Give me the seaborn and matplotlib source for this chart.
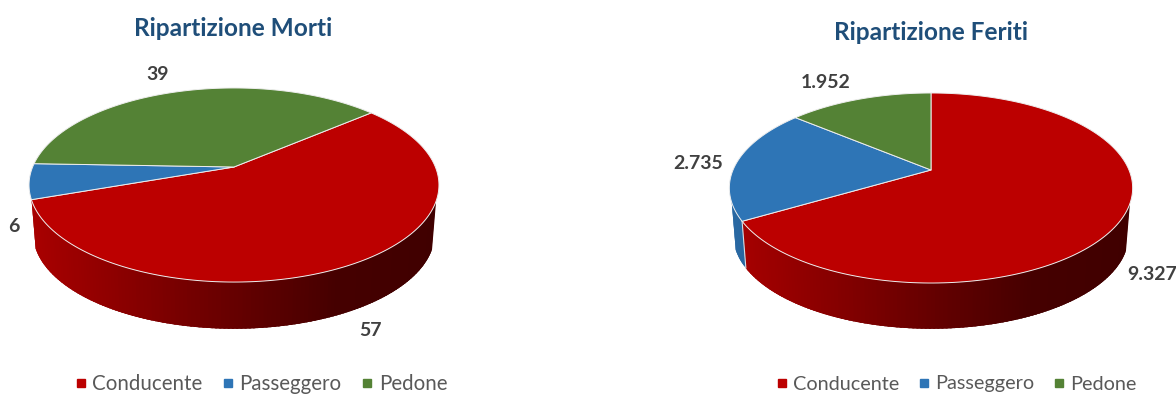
import numpy as np
import matplotlib
matplotlib.use("Agg")
import matplotlib.pyplot as plt
from matplotlib.lines import Line2D
import seaborn as sns

categories = ["Conducente", "Passeggero", "Pedone"]
morti = [57, 6, 39]
feriti = [9327, 2735, 1952]
morti_labels = ["57", "6", "39"]
feriti_labels = ["9.327", "2.735", "1.952"]

sns.set_theme(style="white")
plt.rcParams["font.family"] = ["Lato", "DejaVu Sans"]
palette = sns.color_palette(["#BC0000", "#2E75B6", "#548235"])

W, H = 1176, 394
fig = plt.figure(figsize=(W / 100, H / 100), dpi=100, facecolor="white")


def project(theta_deg, a, b, k):
    t = np.radians(theta_deg)
    u, v = np.sin(t), np.cos(t)
    d = 1 + k * v
    return a * u / d, b * v / d


def shade(f):
    return np.interp(f, [0, 0.5, 0.75, 1], [0.90, 0.54, 0.37, 0.34])


def draw_pie(ax, values, labels, start, a, b, k, depth, title, title_xy, label_xy,
             legend_x, legend_size):
    scale = 0.98
    wall_lo, wall_hi = 110, 250.5
    values = np.asarray(values, float)
    edges = start + np.concatenate([[0], np.cumsum(values) / values.sum() * 360])
    xmax = a / np.sqrt(1 - k ** 2)

    # side wall, built from the slice angles; strips overlap the next one to hide seams
    for i, (t0, t1) in enumerate(zip(edges[:-1], edges[1:])):
        for shift in (-360, 0):
            l, h = max(t0 + shift, wall_lo), min(t1 + shift, wall_hi)
            if h <= l:
                continue
            steps = np.arange(l, h + 1, 1.0)
            steps[-1] = h
            for s0, s1 in zip(steps[:-1], steps[1:]):
                th = np.array([s0, min(s1 + 1.5, h)])
                x, y = project(th, a, b, k)
                xb, yb = x * scale, y * scale - depth
                xm = project(0.5 * (s0 + s1), a, b, k)[0]
                f = (xm + xmax) / (2 * xmax)
                c = tuple(np.array(palette[i]) * shade(f))
                ax.fill([x[0], x[1], xb[1], xb[0]], [y[0], y[1], yb[1], yb[0]],
                        facecolor=c, edgecolor="none", lw=0, zorder=1)
        if wall_lo < (t1 % 360) < wall_hi:
            x, y = project(t1, a, b, k)
            ax.plot([x, x * scale], [y, y * scale - depth], color="#D5DDE5", lw=0.8, zorder=1.5)

    # top face
    for i, (t0, t1) in enumerate(zip(edges[:-1], edges[1:])):
        th = np.linspace(t0, t1, 200)
        x, y = project(th, a, b, k)
        ax.fill(np.r_[0, x], np.r_[0, y], facecolor=palette[i], edgecolor="#EEEEEE",
                lw=0.7, joinstyle="round", zorder=2)

    for lab, (lx, ly) in zip(labels, label_xy):
        ax.text(lx, ly, lab, ha="center", va="center", fontsize=14,
                fontweight="bold", color="#404040", zorder=3)
    ax.text(title_xy[0], title_xy[1], title, ha="center", va="center", fontsize=17.6,
            fontweight="bold", color="#1F4E79", zorder=3)

    handles = [Line2D([], [], ls="", marker="s", ms=6.2, color=palette[i], label=categories[i])
               for i in range(3)]
    ax.legend(handles=handles, loc="center", bbox_to_anchor=legend_x, ncol=3,
              frameon=False, fontsize=legend_size, labelcolor="#595959", handletextpad=0.3,
              columnspacing=1.0, handlelength=0.5, borderpad=0, borderaxespad=0,
              bbox_transform=fig.transFigure)


# left chart: apex at (234, 167) px; axis spans the left half of the figure
ax1 = fig.add_axes([0, 0, 588 / W, 1])
ax1.set_xlim(-234, 354)
ax1.set_ylim(167 - H, 167)
ax1.axis("off")
draw_pie(ax1, morti, morti_labels, 49.7, 201.4, 93.7, 0.1856, 49, "Ripartizione Morti",
         (-1, 139), [(136, -163), (-220, -59), (-76, 92)], (261.5 / W, 1 - 384 / H), 14.8)

# right chart: apex at (931, 170) px
ax2 = fig.add_axes([588 / W, 0, 588 / W, 1])
ax2.set_xlim(588 - 931, 1176 - 931)
ax2.set_ylim(170 - H, 170)
ax2.axis("off")
draw_pie(ax2, feriti, feriti_labels, 0, 198, 91.6, 0.1895, 48, "Ripartizione Feriti",
         (0, 138), [(221, -104), (-233, 7), (-105, 88)], (957 / W, 1 - 384 / H), 14.3)

fig.savefig("out.png", dpi=100)
